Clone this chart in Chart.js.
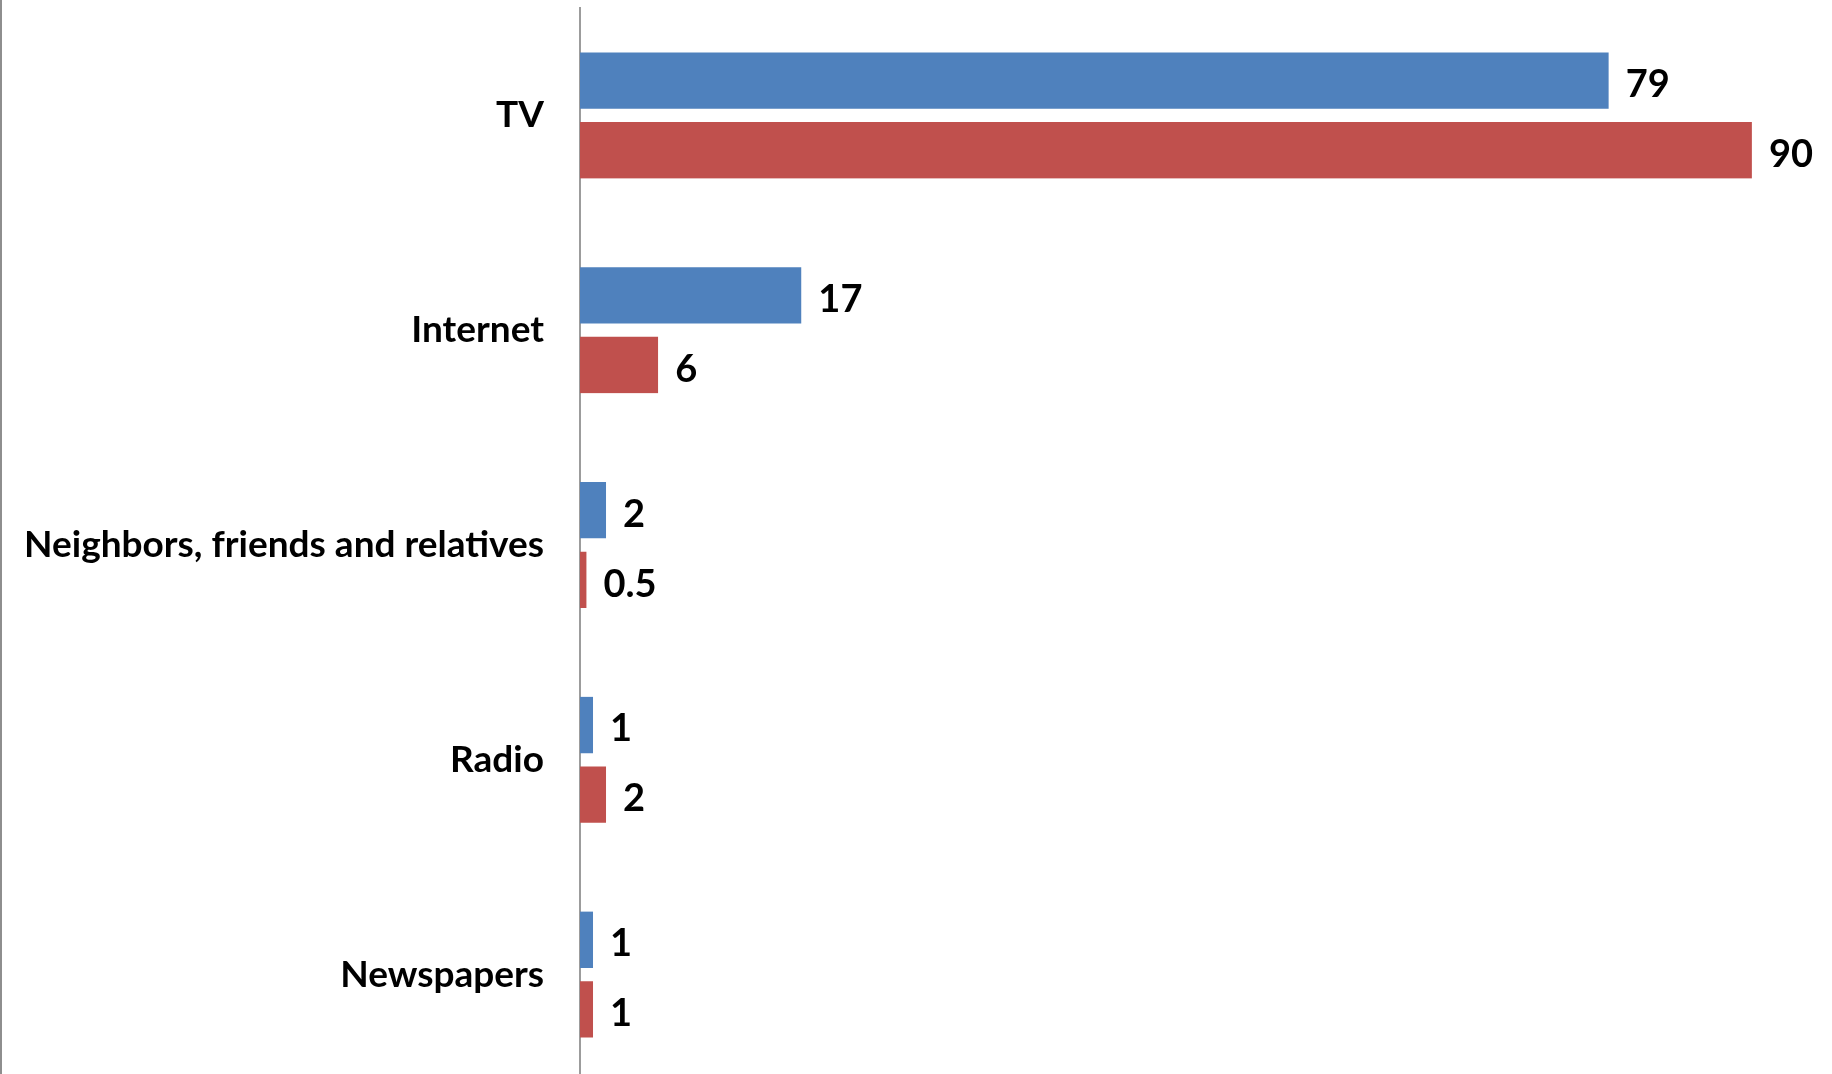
<!DOCTYPE html>
<html>
<head>
<meta charset="utf-8">
<script src="https://cdn.jsdelivr.net/npm/chart.js@4.4.1/dist/chart.umd.min.js"></script>
<style>
  html, body { margin: 0; padding: 0; background: #fff; overflow: hidden; }
  #marco { width: 1832px; height: 1074px; overflow: hidden; box-sizing: border-box; border-left: 2px solid #8e8e8e; }
  #caja { width: 1830px; height: 1082px; position: relative; }
</style>
</head>
<body>
<div id="marco">
  <div id="caja"><canvas id="grafico"></canvas></div>
</div>
<script>
// categorias y valores (porcentajes)
const categorias = ["TV", "Internet", "Neighbors, friends and relatives", "Radio", "Newspapers"];
const serieAzul = [79, 17, 2, 1, 1];
const serieRoja = [90, 6, 0.5, 2, 1];

const fuente = "Lato";
const AXIS_LEFT = 578; // ancho reservado para las etiquetas del eje Y

// dibuja el valor al final de cada barra
const etiquetasValor = {
  id: "etiquetasValor",
  afterDatasetsDraw(chart) {
    const ctx = chart.ctx;
    ctx.save();
    ctx.font = "bold 38px " + fuente;
    ctx.fillStyle = "#000";
    ctx.textAlign = "left";
    ctx.textBaseline = "alphabetic";
    chart.data.datasets.forEach((ds, i) => {
      const meta = chart.getDatasetMeta(i);
      meta.data.forEach((barra, j) => {
        const desplaz = i === 0 ? -1 : 6;
        ctx.fillText(String(ds.data[j]), barra.x + 17, barra.y + desplaz + 14);
      });
    });
    ctx.restore();
  },
};

const ctx = document.getElementById("grafico").getContext("2d");
new Chart(ctx, {
  type: "bar",
  data: {
    labels: categorias,
    datasets: [
      {
        label: "Serie 1",
        data: serieAzul,
        backgroundColor: "#4f81bd",
        borderColor: "rgba(0,0,0,0)",
        borderWidth: { top: 0, right: 0, bottom: 7, left: 0 },
        borderSkipped: false,
      },
      {
        label: "Serie 2",
        data: serieRoja,
        backgroundColor: "#c0504d",
        borderColor: "rgba(0,0,0,0)",
        borderWidth: { top: 7, right: 0, bottom: 0, left: 0 },
        borderSkipped: false,
      },
    ],
  },
  options: {
    indexAxis: "y",
    responsive: true,
    maintainAspectRatio: false,
    animation: false,
    barThickness: 63,
    layout: { padding: { top: 8, right: 2, bottom: 0, left: 0 } },
    plugins: {
      legend: { display: false },
      tooltip: { enabled: false },
    },
    scales: {
      x: {
        min: 0,
        max: 96,
        display: false,
      },
      y: {
        grid: { display: false, drawTicks: false },
        border: { display: true, color: "#9c9c9c", width: 2 },
        ticks: {
          color: "#000",
          padding: 36,
          font: { family: fuente, size: 37, weight: "bold" },
        },
        afterFit(scale) {
          scale.width = AXIS_LEFT;
          // sin margen extra arriba/abajo: el area llega al borde
          scale.paddingTop = 0;
          scale.paddingBottom = 0;
        },
      },
    },
  },
  plugins: [etiquetasValor],
});
</script>
</body>
</html>
